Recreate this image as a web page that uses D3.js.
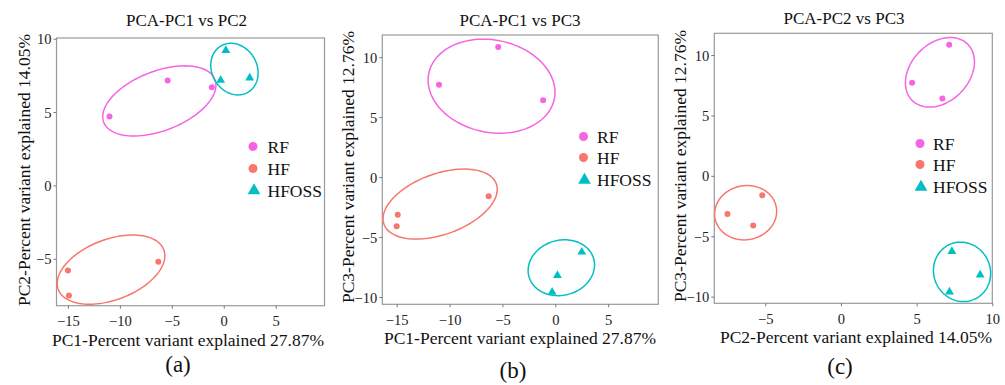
<!DOCTYPE html>
<html><head><meta charset="utf-8">
<script src="https://cdn.jsdelivr.net/npm/d3@7"></script>
<style>body{margin:0;background:#fff}svg{display:block}text{font-family:"Liberation Serif","Times New Roman",serif}</style>
</head><body><svg id="c" width="1005" height="385"></svg>
<script>
// ---- data ----
const groupNames = ["RF", "HF", "HFOSS"];
const groupColors = ["#F564E3", "#F8766D", "#00BFC4"];
const sampleGroup = ["RF","RF","RF","HF","HF","HF","HFOSS","HFOSS","HFOSS"];
const pc1 = [-11.0, -5.4, -1.15, -15.0, -14.9, -6.3, 0.2, -0.3, 2.5];
const pc2 = [4.7, 7.15, 6.7, -5.8, -7.5, -5.2, 9.2, 7.17, 7.33];
const pc3 = [7.7, 10.85, 6.4, -4.1, -3.15, -1.6, -8.2, -9.6, -6.25];
const titles = ["PCA-PC1 vs PC2", "PCA-PC1 vs PC3", "PCA-PC2 vs PC3"];
const xLabels = ["PC1-Percent variant explained 27.87%", "PC1-Percent variant explained 27.87%", "PC2-Percent variant explained 14.05%"];
const yLabels = ["PC2-Percent variant explained 14.05%", "PC3-Percent variant explained 12.76%", "PC3-Percent variant explained 12.76%"];
const panelTags = ["(a)", "(b)", "(c)"];
const xTicks = [[-15,-10,-5,0,5],[-15,-10,-5,0,5],[-5,0,5,10]];
const yTicks = [[-5,0,5,10],[-10,-5,0,5,10],[-10,-5,0,5,10]];
// ellipse per group: [cx, cy, halfWidth, halfHeight, correlation]
const ellipsesA = [[-6.2, 5.76, 5.45, 2.39, 0.45], [-10.85, -5.74, 5.18, 2.36, 0.4], [1.03, 7.93, 2.28, 1.76, -0.15]];
const ellipsesB = [[-6.03, 7.58, 6.0, 3.92, -0.13], [-10.89, -2.25, 5.4, 2.92, 0.42], [0.57, -7.56, 3.14, 2.33, 0.1]];
const ellipsesC = [[6.54, 8.57, 2.28, 2.88, 0.3], [-6.3, -3.05, 2.05, 2.25, 0.05], [8.0, -7.95, 1.89, 2.46, -0.05]];

// ---- layout ----
const panels = [
  {xs: pc1, ys: pc2, ell: ellipsesA, box: [56.5, 38, 324.5, 305.7], xd: [-16.1, 9.7], yd: [-8.2, 10.05],
   title: [186.5, 26], xlab: [188, 346], ylab: [30, 170], tag: [178, 372], leg: [253, 267.5, [146.5, 168.5, 190.5]]},
  {xs: pc1, ys: pc3, ell: ellipsesB, box: [382.3, 35, 658.3, 304.3], xd: [-16.36, 9.74], yd: [-10.61, 11.85],
   title: [520, 26], xlab: [520, 344], ylab: [354, 167], tag: [513, 378], leg: [583.5, 597, [136.5, 157.5, 180]]},
  {xs: pc2, ys: pc3, ell: ellipsesC, box: [714.3, 33.3, 992.3, 303.3], xd: [-8.37, 10.0], yd: [-10.55, 11.8],
   title: [844, 24], xlab: [856, 343], ylab: [686, 166], tag: [840, 374], leg: [920, 933, [143.5, 164.5, 187]]}
];

const svg = d3.select("#c");
const color = d3.scaleOrdinal(groupNames, groupColors);
const tri = d3.symbol().type(d3.symbolTriangle);

panels.forEach((p, i) => {
  const [x0, y0, x1, y1] = p.box;
  const x = d3.scaleLinear().domain(p.xd).range([x0, x1]);
  const y = d3.scaleLinear().domain(p.yd).range([y1, y0]);
  const g = svg.append("g");

  g.append("rect").attr("x", x0).attr("y", y0).attr("width", x1 - x0).attr("height", y1 - y0)
    .attr("fill", "#fff").attr("stroke", "#9a9a9a").attr("stroke-width", 1.2);

  const xa = g.append("g").attr("transform", `translate(0,${y1})`)
    .call(d3.axisBottom(x).tickValues(xTicks[i]).tickSize(3).tickPadding(4).tickFormat(d3.format("d")));
  const ya = g.append("g").attr("transform", `translate(${x0},0)`)
    .call(d3.axisLeft(y).tickValues(yTicks[i]).tickSize(3).tickPadding(2).tickFormat(d3.format("d")));
  [xa, ya].forEach(a => {
    a.select(".domain").remove();
    a.selectAll("line").attr("stroke", "#777");
    a.selectAll("text").attr("font-size", 14.5).attr("fill", "#222")
      .style("font-family", '"Liberation Serif", serif');
  });
  xa.selectAll("text").attr("dy", "0.95em");
  ya.selectAll("text").attr("dy", "0.35em");

  // ellipses
  const line = d3.line().x(d => x(d[0])).y(d => y(d[1])).curve(d3.curveLinearClosed);
  p.ell.forEach((e, k) => {
    const [cx, cy, w, h, r] = e;
    const pts = d3.range(0, 2 * Math.PI, Math.PI / 60).map(t =>
      [cx + w * Math.cos(t), cy + h * (r * Math.cos(t) + Math.sqrt(1 - r * r) * Math.sin(t))]);
    g.append("path").attr("d", line(pts)).attr("fill", "none")
      .attr("stroke", groupColors[k]).attr("stroke-width", 1.5);
  });

  // points
  sampleGroup.forEach((grp, j) => {
    const px = x(p.xs[j]), py = y(p.ys[j]);
    if (grp === "HFOSS") {
      g.append("path").attr("d", tri.size(34)()).attr("transform", `translate(${px},${py})`).attr("fill", color(grp));
    } else {
      g.append("circle").attr("cx", px).attr("cy", py).attr("r", 3).attr("fill", color(grp));
    }
  });

  // legend
  const [lx, tx, rows] = p.leg;
  groupNames.forEach((nm, k) => {
    if (nm === "HFOSS") {
      g.append("path").attr("d", tri.size(70)()).attr("transform", `translate(${lx + 1},${rows[k]})`).attr("fill", color(nm));
    } else {
      g.append("circle").attr("cx", lx).attr("cy", rows[k]).attr("r", 4.5).attr("fill", color(nm));
    }
    g.append("text").attr("x", tx).attr("y", rows[k] + 6).attr("font-size", 17.5).attr("fill", "#111").text(nm);
  });

  // texts
  g.append("text").attr("x", p.title[0]).attr("y", p.title[1]).attr("text-anchor", "middle")
    .attr("font-size", 17).attr("fill", "#111").text(titles[i]);
  g.append("text").attr("x", p.xlab[0]).attr("y", p.xlab[1]).attr("text-anchor", "middle")
    .attr("font-size", 17.5).attr("fill", "#111").text(xLabels[i]);
  g.append("text").attr("transform", `translate(${p.ylab[0]},${p.ylab[1]}) rotate(-90)`).attr("text-anchor", "middle")
    .attr("font-size", 17.5).attr("fill", "#111").text(yLabels[i]);
  g.append("text").attr("x", p.tag[0]).attr("y", p.tag[1]).attr("text-anchor", "middle")
    .attr("font-size", 23).attr("fill", "#111").text(panelTags[i]);
});
</script></body></html>
